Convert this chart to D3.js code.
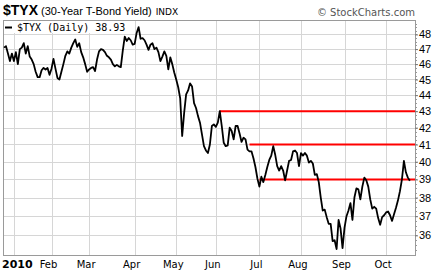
<!DOCTYPE html>
<html>
<head>
<meta charset="utf-8">
<script src="https://cdn.jsdelivr.net/npm/d3@7"></script>
<style>
  html, body { margin: 0; padding: 0; background: #fff; }
  svg { display: block; }
</style>
</head>
<body>
<div id="chart"></div>
<script>
// $TYX daily closes, one per trading day, late Dec 2009 to mid Oct 2010
const tyx = [
  47.1, 47.2, 46.7, 46.2, 46.7, 46.2, 46.8, 46.0, 47.0, 47.1,
  47.4, 46.7, 47.2, 46.5, 46.3, 46.0, 45.5, 45.15, 45.15, 45.6,
  45.75, 45.65, 45.75, 45.3, 45.7, 46.35, 45.7, 45.1, 45.0, 45.5,
  46.0, 46.55, 46.85, 46.7, 47.1, 47.4, 47.65, 47.15, 47.4, 46.8,
  46.45, 46.0, 45.5, 45.65, 45.75, 45.8, 45.55, 46.3, 46.85, 47.0,
  46.95, 46.8, 46.55, 46.45, 46.3, 46.0, 45.85, 45.95, 45.85, 45.8,
  46.9, 47.85, 47.55, 47.75, 47.6, 47.3, 47.35, 48.1, 48.5, 47.7,
  47.75, 47.6, 47.3, 46.95, 47.3, 47.4, 47.0, 47.1, 46.8, 46.2,
  46.5, 46.85, 46.55, 45.65, 46.45, 46.0, 45.45, 45.0, 44.5, 43.8,
  41.5, 42.9, 44.05, 44.3, 44.75, 44.55, 43.5, 43.2, 42.7, 42.3,
  41.6, 40.9, 40.65, 40.5, 41.0, 42.1, 42.2, 42.05, 42.3, 43.0,
  42.1, 41.1, 40.9, 40.95, 42.0, 41.8, 41.3, 42.1, 42.1, 41.65,
  41.15, 41.4, 41.3, 40.7, 40.6, 40.6, 40.2, 39.7, 39.05, 38.6,
  39.15, 38.85, 39.25, 39.7, 40.1, 40.35, 40.9, 40.4, 39.75, 39.5,
  39.75, 39.5, 38.95, 39.5, 40.05, 40.1, 40.6, 40.65, 40.5, 39.75,
  40.5, 40.35, 40.5, 40.35, 39.95, 40.05, 39.9, 39.25, 39.3, 38.85,
  38.0, 37.3, 37.35, 36.95, 36.6, 36.6, 35.7, 35.75, 35.3, 36.8,
  36.35, 35.35, 36.4, 37.0, 37.3, 37.7, 36.8, 38.0, 38.5, 38.45,
  37.9, 38.6, 39.1, 38.95, 38.6, 37.9, 37.4, 37.5, 37.4, 36.9,
  36.55, 36.95, 37.05, 37.2, 37.25, 37.05, 36.75, 37.1, 37.45, 37.85,
  38.35, 39.0, 40.05, 39.4, 39.1, 38.93
];

// first trading day of each month (index into tyx)
const monthLabels = ["2010", "Feb", "Mar", "Apr", "May", "Jun", "Jul", "Aug", "Sep", "Oct"];
const monthStarts = [5, 24, 43, 66, 87, 107, 129, 150, 172, 193];

const yTicks = [36, 37, 38, 39, 40, 41, 42, 43, 44, 45, 46, 47, 48];

// red resistance / support levels and the day each one starts
const levels = [43, 41, 39];
const levelStarts = [109, 124, 129];

const W = 435, H = 272;
const plotLeft = 3, plotRight = 415, plotTop = 20, plotBottom = 255;

const svg = d3.select("#chart").append("svg")
    .attr("width", W)
    .attr("height", H)
    .style("font-family", "'Liberation Sans', Arial, sans-serif");

const x = d3.scaleLinear()
    .domain([-0.5, 207.6])
    .range([plotLeft, plotRight]);

const y = d3.scaleLog()
    .domain([35, 49])
    .range([plotBottom, plotTop]);

// grid
svg.append("g")
    .selectAll("line")
    .data(yTicks)
    .enter()
    .append("line")
    .attr("x1", plotLeft)
    .attr("x2", plotRight)
    .attr("y1", d => Math.round(y(d)) + 0.5)
    .attr("y2", d => Math.round(y(d)) + 0.5)
    .attr("stroke", "#d6d6d6")
    .attr("stroke-width", 1);

svg.append("g")
    .selectAll("line")
    .data(monthStarts)
    .enter()
    .append("line")
    .attr("x1", d => Math.round(x(d)) + 0.5)
    .attr("x2", d => Math.round(x(d)) + 0.5)
    .attr("y1", plotTop)
    .attr("y2", plotBottom)
    .attr("stroke", "#d6d6d6")
    .attr("stroke-width", 1);

// frame
svg.append("rect")
    .attr("x", plotLeft + 0.5)
    .attr("y", plotTop + 0.5)
    .attr("width", plotRight - plotLeft)
    .attr("height", plotBottom - plotTop)
    .attr("fill", "none")
    .attr("stroke", "#9a9a9a")
    .attr("stroke-width", 1);

// right axis with minor ticks
const minor = d3.range(35.25, 49, 0.25);
svg.append("g")
    .selectAll("line")
    .data(minor)
    .enter()
    .append("line")
    .attr("x1", plotRight)
    .attr("x2", plotRight + 2)
    .attr("y1", d => Math.round(y(d)) + 0.5)
    .attr("y2", d => Math.round(y(d)) + 0.5)
    .attr("stroke", "#999")
    .attr("stroke-width", 1);

svg.append("g")
    .attr("transform", `translate(${plotRight},0)`)
    .call(d3.axisRight(y).tickValues(yTicks).tickFormat(d3.format("d")).tickSize(3).tickPadding(1))
    .call(g => g.select(".domain").remove())
    .call(g => g.selectAll(".tick line").attr("stroke", "#777"))
    .selectAll("text")
    .style("font-size", "11px")
    .style("font-family", "'Liberation Sans', Arial, sans-serif")
    .attr("fill", "#000");

// month labels
svg.append("g")
    .selectAll("text")
    .data(monthStarts)
    .enter()
    .append("text")
    .attr("x", (d, i) => i === 0 ? 2 : x(d) - 3)
    .attr("y", 268)
    .attr("text-anchor", (d, i) => i === 0 ? "start" : "middle")
    .style("font-size", (d, i) => i === 0 ? "11px" : "10px")
    .style("font-weight", (d, i) => i === 0 ? "bold" : "normal")
    .style("font-family", "'DejaVu Sans', Verdana, sans-serif")
    .text((d, i) => monthLabels[i]);

// support / resistance lines
svg.append("g")
    .selectAll("line")
    .data(levels)
    .enter()
    .append("line")
    .attr("x1", (d, i) => x(levelStarts[i]))
    .attr("x2", plotRight)
    .attr("y1", d => y(d))
    .attr("y2", d => y(d))
    .attr("stroke", "#ff0000")
    .attr("stroke-width", 2);

// price line
const line = d3.line()
    .x((d, i) => x(i))
    .y(d => y(d));

svg.append("path")
    .datum(tyx)
    .attr("d", line)
    .attr("fill", "none")
    .attr("stroke", "#000")
    .attr("stroke-width", 1.8)
    .attr("stroke-linejoin", "round");

// legend
const legend = svg.append("g");
legend.append("rect")
    .attr("x", 4)
    .attr("y", 21)
    .attr("width", 120)
    .attr("height", 12)
    .attr("fill", "#fff");
legend.append("line")
    .attr("x1", 5)
    .attr("x2", 12)
    .attr("y1", 27.5)
    .attr("y2", 27.5)
    .attr("stroke", "#000")
    .attr("stroke-width", 2);
legend.append("text")
    .attr("x", 17)
    .attr("y", 31)
    .style("font-family", "'DejaVu Sans Mono', monospace")
    .style("font-size", "10px")
    .text("$TYX (Daily) " + tyx[tyx.length - 1].toFixed(2));

// title
const title = svg.append("text")
    .attr("x", 3)
    .attr("y", 15);
title.append("tspan")
    .style("font-weight", "bold")
    .style("font-size", "14px")
    .text("$TYX");
title.append("tspan")
    .attr("dx", 3)
    .style("font-size", "11px")
    .text("(30-Year T-Bond Yield)");
title.append("tspan")
    .attr("dx", 4)
    .style("font-size", "9px")
    .style("font-family", "'DejaVu Sans', Verdana, sans-serif")
    .text("INDX");

svg.append("text")
    .attr("x", plotRight)
    .attr("y", 16)
    .attr("text-anchor", "end")
    .style("font-size", "10px")
    .style("font-family", "'DejaVu Sans', Verdana, sans-serif")
    .attr("fill", "#555")
    .text("© StockCharts.com");
</script>
</body>
</html>
